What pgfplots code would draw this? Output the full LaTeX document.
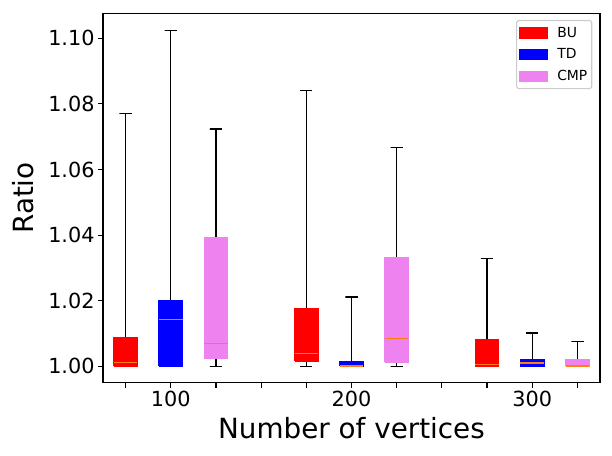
\documentclass[border=0pt]{standalone}
\usepackage{pgfplots}
\pgfplotsset{compat=1.18}
\usepackage{fontspec}
\setmainfont{DejaVu Sans}
\definecolor{mplorange}{HTML}{FF7F0E}
\definecolor{vio}{HTML}{EE82EE}
\begin{document}
\begin{tikzpicture}
\begin{axis}[
  scale only axis, width=497bp, height=369.4bp,
  at={(0,0)}, anchor=south west,
  xmin=0.5, xmax=11.5, ymin=0.995, ymax=1.1076,
  xtick={1,2,3,4,5,6,7,8,9,10,11},
  xticklabels={,100,,,,200,,,,300,},
  ytick={1.00,1.02,1.04,1.06,1.08,1.10},
  /pgf/number format/assume math mode=true,
  yticklabel style={/pgf/number format/fixed, /pgf/number format/fixed zerofill, /pgf/number format/precision=2},
  scaled y ticks=false,
  tick align=outside, tick pos=left,
  major tick length=4.9bp,
  tick style={black, line width=1.1bp},
  ticklabel style={font=\fontsize{20.8bp}{24bp}\selectfont},
  xlabel={Number of vertices}, ylabel={Ratio},
  xlabel style={font=\fontsize{27.8bp}{32bp}\selectfont, at={(axis description cs:0.5,-0.1505)}, anchor=base},
  ylabel style={font=\fontsize{27.8bp}{32bp}\selectfont, at={(axis description cs:-0.1402,0.5)}, anchor=base},
  axis line style={line width=1.1bp},
  legend style={at={(0.9845,0.9819)}, anchor=north east, draw=black!20, line width=1.1bp, rounded corners=2.5bp,
    font=\fontsize{13.9bp}{16bp}\selectfont, row sep=6bp, inner xsep=2.4bp, inner ysep=4.5bp,
    nodes={inner sep=2bp},
    /tikz/every odd column/.append style={column sep=7.3bp}},
  legend cell align=left,
  legend image code/.code={\draw[#1, sharp corners, line width=0.6bp] (0bp,-5.2bp) rectangle (28.4bp,5.2bp);},
  box/.style={forget plot, line width=1.39bp},
  med/.style={forget plot, draw=mplorange, line width=1.2bp},
  whi/.style={forget plot, draw=black, line width=1.39bp},
]
% ---------------- 100 vertices ----------------
% BU: q1 1.0000, median 1.0012, q3 1.0087, upper whisker 1.0771
\addplot[whi] coordinates {(1,1.0087) (1,1.0771) (0.865,1.0771) (1.135,1.0771)};
\addplot[box, fill=red, draw=red] coordinates {(0.74,1.0) (1.26,1.0) (1.26,1.0087) (0.74,1.0087) (0.74,1.0)};
\addplot[med] coordinates {(0.74,1.0012) (1.26,1.0012)};
% TD: q1 1.0000, median 1.0143, q3 1.0200, upper whisker 1.1024
\addplot[whi] coordinates {(2,1.0200) (2,1.1024) (1.865,1.1024) (2.135,1.1024)};
\addplot[box, fill=blue, draw=blue] coordinates {(1.74,1.0) (2.26,1.0) (2.26,1.0200) (1.74,1.0200) (1.74,1.0)};
\addplot[med] coordinates {(1.74,1.0143) (2.26,1.0143)};
% CMP: lower whisker 1.0000, q1 1.0024, median 1.0070, q3 1.0392, upper whisker 1.0723
\addplot[whi] coordinates {(3,1.0392) (3,1.0723) (2.865,1.0723) (3.135,1.0723)};
\addplot[whi] coordinates {(3,1.0024) (3,1.0) (2.865,1.0) (3.135,1.0)};
\addplot[box, fill=vio, draw=vio] coordinates {(2.74,1.0024) (3.26,1.0024) (3.26,1.0392) (2.74,1.0392) (2.74,1.0024)};
\addplot[med] coordinates {(2.74,1.0070) (3.26,1.0070)};
% ---------------- 200 vertices ----------------
% BU: lower whisker 1.0000, q1 1.0016, median 1.0040, q3 1.0175, upper whisker 1.0841
\addplot[whi] coordinates {(5,1.0175) (5,1.0841) (4.865,1.0841) (5.135,1.0841)};
\addplot[whi] coordinates {(5,1.0016) (5,1.0) (4.865,1.0) (5.135,1.0)};
\addplot[box, fill=red, draw=red] coordinates {(4.74,1.0016) (5.26,1.0016) (5.26,1.0175) (4.74,1.0175) (4.74,1.0016)};
\addplot[med] coordinates {(4.74,1.0040) (5.26,1.0040)};
% TD: q1 1.0000, median 1.0001, q3 1.0015, upper whisker 1.0211
\addplot[whi] coordinates {(6,1.0015) (6,1.0211) (5.865,1.0211) (6.135,1.0211)};
\addplot[box, fill=blue, draw=blue] coordinates {(5.74,1.0) (6.26,1.0) (6.26,1.0015) (5.74,1.0015) (5.74,1.0)};
\addplot[med] coordinates {(5.74,1.0001) (6.26,1.0001)};
% CMP: lower whisker 1.0000, q1 1.0013, median 1.0085, q3 1.0331, upper whisker 1.0666
\addplot[whi] coordinates {(7,1.0331) (7,1.0666) (6.865,1.0666) (7.135,1.0666)};
\addplot[whi] coordinates {(7,1.0013) (7,1.0) (6.865,1.0) (7.135,1.0)};
\addplot[box, fill=vio, draw=vio] coordinates {(6.74,1.0013) (7.26,1.0013) (7.26,1.0331) (6.74,1.0331) (6.74,1.0013)};
\addplot[med] coordinates {(6.74,1.0085) (7.26,1.0085)};
% ---------------- 300 vertices ----------------
% BU: q1 1.0000, median 1.0006, q3 1.0080, upper whisker 1.0329
\addplot[whi] coordinates {(9,1.0080) (9,1.0329) (8.865,1.0329) (9.135,1.0329)};
\addplot[box, fill=red, draw=red] coordinates {(8.74,1.0) (9.26,1.0) (9.26,1.0080) (8.74,1.0080) (8.74,1.0)};
\addplot[med] coordinates {(8.74,1.0006) (9.26,1.0006)};
% TD: q1 1.0000, median 1.0010, q3 1.0020, upper whisker 1.0101
\addplot[whi] coordinates {(10,1.0020) (10,1.0101) (9.865,1.0101) (10.135,1.0101)};
\addplot[box, fill=blue, draw=blue] coordinates {(9.74,1.0) (10.26,1.0) (10.26,1.0020) (9.74,1.0020) (9.74,1.0)};
\addplot[med] coordinates {(9.74,1.0010) (10.26,1.0010)};
% CMP: q1 1.0000, median 1.0001, q3 1.0019, upper whisker 1.0076
\addplot[whi] coordinates {(11,1.0019) (11,1.0076) (10.865,1.0076) (11.135,1.0076)};
\addplot[box, fill=vio, draw=vio] coordinates {(10.74,1.0) (11.26,1.0) (11.26,1.0019) (10.74,1.0019) (10.74,1.0)};
\addplot[med] coordinates {(10.74,1.0001) (11.26,1.0001)};
% legend
\addlegendimage{fill=red, draw=red}
\addlegendentry{BU}
\addlegendimage{fill=blue, draw=blue}
\addlegendentry{TD}
\addlegendimage{fill=vio, draw=vio}
\addlegendentry{CMP}
\end{axis}
\pgfresetboundingbox
\path[use as bounding box] (-103bp,-73.3bp) rectangle (509bp,382.7bp);
\end{tikzpicture}
\end{document}
